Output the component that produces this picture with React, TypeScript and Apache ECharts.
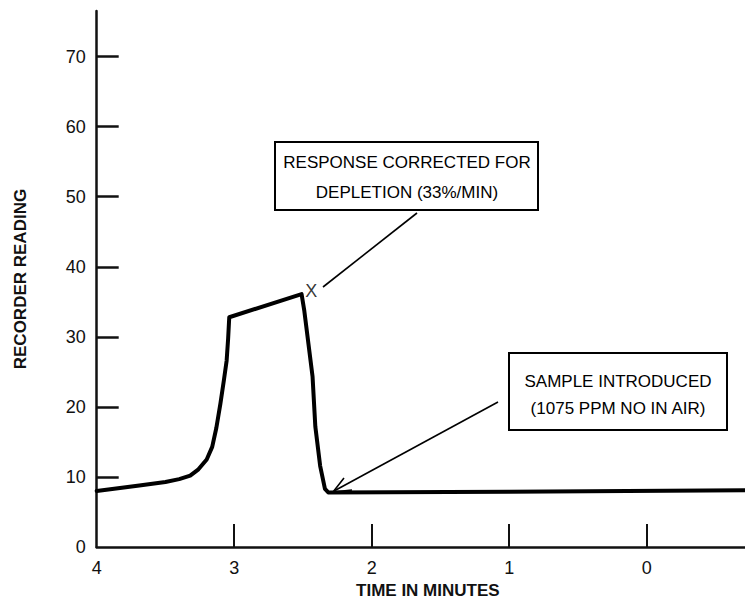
import React, { useEffect, useRef } from "react";
import * as echarts from "echarts";

// Time in minutes (axis runs from 4 on the left down to below 0 on the right)
const timeMin: number[] = [
  4.0, 3.69, 3.5, 3.4, 3.32, 3.26, 3.2, 3.16, 3.13, 3.1, 3.075, 3.055, 3.044, 3.036,
  2.51, 2.49, 2.43, 2.41, 2.375, 2.34, 2.316, 1.0, -0.715,
];
// Recorder reading at each time
const reading: number[] = [
  8.0, 8.8, 9.3, 9.7, 10.2, 11.1, 12.5, 14.3, 17.0, 20.5, 23.8, 26.6, 29.8, 32.8,
  36.1, 33.7, 24.3, 17.2, 11.6, 8.3, 7.8, 7.9, 8.1,
];
const markerPoint: number[] = [2.44, 36.5];
const yTickValues: number[] = [10, 20, 30, 40, 50, 60, 70];
const yLabelValues: number[] = [0, 10, 20, 30, 40, 50, 60, 70];
const xTickValues: number[] = [0, 1, 2, 3];
const xLabelValues: number[] = [0, 1, 2, 3, 4];

const FONT = "Liberation Sans, Arial, sans-serif";

export default function App() {
  const ref = useRef<HTMLDivElement>(null);
  useEffect(() => {
    if (!ref.current) return;
    const chart = echarts.init(ref.current, null, { renderer: "svg" });
    const lineData = timeMin.map((t, i) => [t, reading[i]]);
    chart.setOption({
      animation: false,
      backgroundColor: "#ffffff",
      grid: { left: 96.7, right: 0, top: 11, bottom: 52.3, containLabel: false },
      xAxis: {
        type: "value",
        inverse: true,
        min: -0.715,
        max: 4,
        name: "TIME IN MINUTES",
        nameLocation: "middle",
        nameGap: 30,
        nameTextStyle: {
          fontFamily: FONT,
          fontWeight: "bold",
          fontSize: 17,
          color: "#111",
          padding: [0, 0, 0, 14],
        },
        axisLine: { show: true, onZero: false, lineStyle: { color: "#111", width: 2.5 } },
        axisTick: {
          show: true,
          inside: true,
          length: 23,
          customValues: xTickValues,
          lineStyle: { color: "#111", width: 2 },
        },
        axisLabel: {
          show: true,
          customValues: xLabelValues,
          margin: 12,
          fontFamily: FONT,
          fontSize: 18,
          color: "#111",
        },
        splitLine: { show: false },
      },
      yAxis: {
        type: "value",
        min: 0,
        max: 76.5,
        name: "RECORDER READING",
        nameLocation: "middle",
        nameRotate: 90,
        nameGap: 68,
        nameTextStyle: {
          fontFamily: FONT,
          fontWeight: "bold",
          fontSize: 17,
          color: "#111",
        },
        axisLine: { show: true, onZero: false, lineStyle: { color: "#111", width: 2.5 } },
        axisTick: {
          show: true,
          inside: true,
          length: 22,
          customValues: yTickValues,
          lineStyle: { color: "#111", width: 2.5 },
        },
        axisLabel: {
          show: true,
          customValues: yLabelValues,
          margin: 11,
          fontFamily: FONT,
          fontSize: 18,
          color: "#111",
        },
        splitLine: { show: false },
      },
      series: [
        {
          type: "line",
          data: lineData,
          showSymbol: false,
          symbol: "none",
          smooth: false,
          lineStyle: { color: "#000", width: 4, join: "round", cap: "round" },
        },
        {
          type: "scatter",
          data: [markerPoint],
          symbolSize: 0,
          label: {
            show: true,
            position: "inside",
            formatter: "X",
            fontFamily: FONT,
            fontSize: 18,
            color: "#000",
          },
        },
      ],
      graphic: [
        {
          type: "line",
          shape: { x1: 323, y1: 287, x2: 417, y2: 213 },
          style: { stroke: "#000", lineWidth: 1.6 },
        },
        {
          type: "rect",
          shape: { x: 275, y: 142, width: 263, height: 68 },
          style: { fill: "#fff", stroke: "#000", lineWidth: 2 },
        },
        {
          type: "text",
          x: 407,
          y: 162,
          style: {
            text: "RESPONSE CORRECTED FOR",
            fontFamily: FONT,
            fontSize: 17,
            fill: "#000",
            align: "center",
            verticalAlign: "middle",
          },
        },
        {
          type: "text",
          x: 407,
          y: 192,
          style: {
            text: "DEPLETION (33%/MIN)",
            fontFamily: FONT,
            fontSize: 17,
            fill: "#000",
            align: "center",
            verticalAlign: "middle",
          },
        },
        {
          type: "line",
          shape: { x1: 498, y1: 402, x2: 334, y2: 491 },
          style: { stroke: "#000", lineWidth: 1.6 },
        },
        {
          type: "polyline",
          shape: { points: [[344, 478], [333, 492], [352, 490]] },
          style: { stroke: "#000", lineWidth: 1.6, fill: null },
        },
        {
          type: "rect",
          shape: { x: 509, y: 353, width: 218, height: 77 },
          style: { fill: "#fff", stroke: "#000", lineWidth: 2 },
        },
        {
          type: "text",
          x: 618,
          y: 381,
          style: {
            text: "SAMPLE INTRODUCED",
            fontFamily: FONT,
            fontSize: 17,
            fill: "#000",
            align: "center",
            verticalAlign: "middle",
          },
        },
        {
          type: "text",
          x: 618,
          y: 408,
          style: {
            text: "(1075 PPM NO IN AIR)",
            fontFamily: FONT,
            fontSize: 17,
            fill: "#000",
            align: "center",
            verticalAlign: "middle",
          },
        },
      ],
    });
    return () => chart.dispose();
  }, []);
  return (
    <div
      ref={ref}
      style={{ position: "fixed", left: 0, top: 0, width: 745, height: 604, background: "#fff" }}
    />
  );
}
